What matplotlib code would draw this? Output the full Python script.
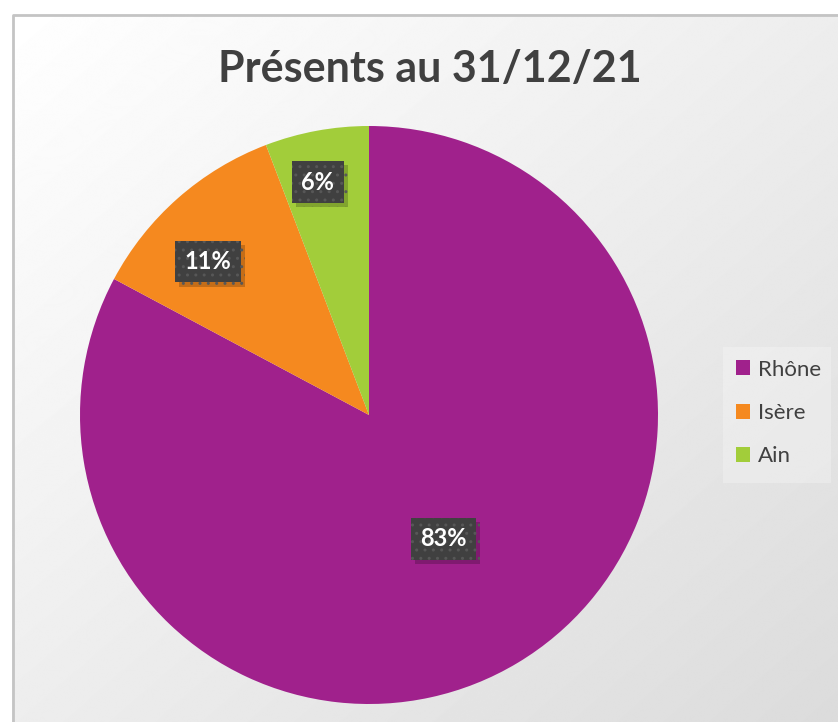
import numpy as np
import matplotlib.pyplot as plt
import matplotlib.patheffects as pe
from matplotlib.patches import Rectangle

# data
labels = ['Rhône', 'Isère', 'Ain']
values = [82.8, 11.4, 5.8]
colors = ['#A0218C', '#F5891F', '#A2CD3A']
title = 'Présents au 31/12/21'

W, H = 838, 722
fig = plt.figure(figsize=(W / 100, H / 100), dpi=100)

# background: chart area with diagonal white -> grey gradient
bg = fig.add_axes([0, 0, 1, 1])
bg.set_xlim(0, W)
bg.set_ylim(H, 0)
bg.axis('off')
yy, xx = np.mgrid[0:H, 0:W]
t = (xx / W + yy / H) / 2
grad = 1.0 - 0.14 * t
bg.imshow(grad, cmap='gray', vmin=0, vmax=1, extent=(12, W, H, 14), aspect='auto')
bg.plot([13, 13, W], [H, 15, 15], color='#c4c4c4', lw=2)
bg.add_patch(Rectangle((723, 347), 108, 136, facecolor='#ffffff', alpha=0.25, edgecolor='none'))

bg.text(430, 66, title, ha='center', va='center_baseline', fontsize=31, fontweight='bold',
        family='Lato', color='#404040')

# pie
cx, cy, r = 369, 415, 289
ax = fig.add_axes([(cx - r) / W, (H - cy - r) / H, 2 * r / W, 2 * r / H])
wedges, _ = ax.pie(values, colors=colors, startangle=90, counterclock=False, radius=1)
ax.set_xlim(-1, 1)
ax.set_ylim(-1, 1)
ax.axis('off')

# data labels (best-fit placement like Excel)
label_dist = [0.5, 0.77, 0.825]
label_shift = [0, 5, 2]
total = sum(values)
for w, v, d, s in zip(wedges, values, label_dist, label_shift):
    ang = np.deg2rad((w.theta1 + w.theta2) / 2 + s)
    txt = ax.text(d * np.cos(ang), d * np.sin(ang), f'{v / total * 100:.0f}%',
                  ha='center', va='center', fontsize=17, fontweight='bold',
                  family='Lato', color='white',
                  bbox=dict(boxstyle='square,pad=0.4', facecolor='#404040',
                            edgecolor='#575757', linewidth=0, hatch='..'))
    txt.get_bbox_patch().set_path_effects([
        pe.SimplePatchShadow(offset=(3, -3), shadow_rgbFace='black', alpha=0.2),
        pe.Normal()])

leg = fig.legend(wedges, labels, loc='center left', bbox_to_anchor=(716 / W, 1 - 413 / H),
                 frameon=False, handlelength=0.65, handleheight=0.65,
                 handletextpad=0.35, labelspacing=1.05,
                 prop={'family': 'Lato', 'size': 16})
for t_ in leg.get_texts():
    t_.set_color('#404040')

fig.savefig('out.png', dpi=100)
